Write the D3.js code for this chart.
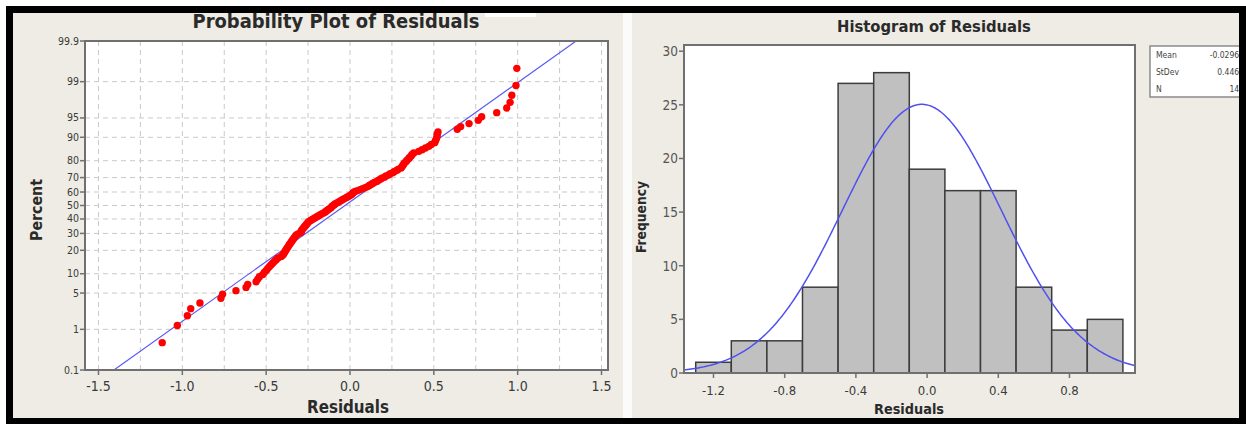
<!DOCTYPE html>
<html>
<head>
<meta charset="utf-8">
<script src="https://cdn.jsdelivr.net/npm/d3@7"></script>
<style>
  html, body { margin: 0; padding: 0; background: #ffffff; }
  svg { display: block; }
  text { font-family: "DejaVu Sans Condensed", "DejaVu Sans", sans-serif; }
</style>
</head>
<body>
<svg id="chart" width="1246" height="424"></svg>
<script>
// ---------------- DATA ----------------
// Sorted residuals (n = 140)
const residuals = [
  -1.12,
  -1.03, -0.97, -0.95,
  -0.895, -0.77, -0.76,
  -0.68, -0.62, -0.61, -0.56, -0.55, -0.54, -0.52, -0.51,
  -0.498, -0.49, -0.48, -0.47, -0.46, -0.45, -0.44, -0.43, -0.41, -0.40,
  -0.395, -0.39, -0.385, -0.38, -0.375, -0.37, -0.365, -0.36, -0.355, -0.35,
  -0.345, -0.34, -0.335, -0.33, -0.325, -0.32, -0.31,
  -0.295, -0.29, -0.29, -0.285, -0.28, -0.275, -0.27, -0.265, -0.26, -0.255,
  -0.25, -0.245, -0.235, -0.225, -0.215, -0.205, -0.195, -0.185, -0.175, -0.165,
  -0.155, -0.145, -0.14, -0.13, -0.125, -0.115, -0.11, -0.105,
  -0.095, -0.09, -0.08, -0.07, -0.06, -0.05, -0.04, -0.03, -0.02, -0.01,
  0.0, 0.01, 0.015, 0.02, 0.03, 0.045, 0.06, 0.075, 0.09,
  0.105, 0.115, 0.125, 0.135, 0.145, 0.16, 0.17, 0.18, 0.19, 0.205,
  0.215, 0.23, 0.24, 0.255, 0.265, 0.28, 0.29,
  0.305, 0.31, 0.315, 0.32, 0.325, 0.335, 0.34, 0.35, 0.355, 0.365,
  0.37, 0.38, 0.41, 0.43, 0.45, 0.47, 0.485,
  0.505, 0.51, 0.515, 0.52, 0.52, 0.525, 0.64, 0.66,
  0.71, 0.765, 0.785, 0.875,
  0.935, 0.955, 0.965, 0.99, 0.995
];

// Summary statistics shown in the legend box
const statLabels = ["Mean", "StDev", "N"];
const statValues = ["-0.02962", "0.4460", "140"];
const fitMean = -0.02962;
const fitStDev = 0.4460;

// Probability plot axis ticks
const percentTicks = [0.1, 1, 5, 10, 20, 30, 40, 50, 60, 70, 80, 90, 95, 99, 99.9];
const percentGrid = [1, 5, 10, 20, 30, 40, 50, 60, 70, 80, 90, 95, 99];
const probXTicks = [-1.5, -1.0, -0.5, 0.0, 0.5, 1.0, 1.5];
const probXGrid = [-1.5, -1.25, -1.0, -0.75, -0.5, -0.25, 0.0, 0.25, 0.5, 0.75, 1.0, 1.25, 1.5];

// Histogram bins and ticks
const binEdges = [-1.3, -1.1, -0.9, -0.7, -0.5, -0.3, -0.1, 0.1, 0.3, 0.5, 0.7, 0.9, 1.1];
const histXTicks = [-1.2, -0.8, -0.4, 0.0, 0.4, 0.8];
const histYTicks = [0, 5, 10, 15, 20, 25, 30];

// ---------------- HELPERS ----------------
function qnorm(p) {
  const a = [-3.969683028665376e+01, 2.209460984245205e+02, -2.759285104469687e+02, 1.383577518672690e+02, -3.066479806614716e+01, 2.506628277459239e+00];
  const b = [-5.447609879822406e+01, 1.615858368580409e+02, -1.556989798598866e+02, 6.680131188771972e+01, -1.328068155288572e+01];
  const c = [-7.784894002430293e-03, -3.223964580411365e-01, -2.400758277161838e+00, -2.549732539343734e+00, 4.374664141464968e+00, 2.938163982698783e+00];
  const d = [7.784695709041462e-03, 3.224671290700398e-01, 2.445134137142996e+00, 3.754408661907416e+00];
  const pl = 0.02425, ph = 1 - pl;
  let q, r;
  if (p < pl) {
    q = Math.sqrt(-2 * Math.log(p));
    return (((((c[0]*q+c[1])*q+c[2])*q+c[3])*q+c[4])*q+c[5]) / ((((d[0]*q+d[1])*q+d[2])*q+d[3])*q+1);
  }
  if (p <= ph) {
    q = p - 0.5; r = q*q;
    return (((((a[0]*r+a[1])*r+a[2])*r+a[3])*r+a[4])*r+a[5])*q / (((((b[0]*r+b[1])*r+b[2])*r+b[3])*r+b[4])*r+1);
  }
  q = Math.sqrt(-2 * Math.log(1 - p));
  return -(((((c[0]*q+c[1])*q+c[2])*q+c[3])*q+c[4])*q+c[5]) / ((((d[0]*q+d[1])*q+d[2])*q+d[3])*q+1);
}
function fitText(sel, target) {
  const node = sel.node();
  const w = node.getComputedTextLength();
  const fs = parseFloat(sel.attr("font-size"));
  if (w > 0) sel.attr("font-size", (fs * target / w).toFixed(2));
}
const fmt1 = d => d.toFixed(1);

// ---------------- LAYOUT ----------------
const svg = d3.select("#chart");
const BEIGE = "#eeece4";
const TXT = "#3a3a3a";
const FRAME = "#707070";
const GRID = "#c9c9c9";

// panels
svg.append("rect").attr("x", 0).attr("y", 0).attr("width", 1246).attr("height", 424).attr("fill", "#ffffff");
svg.append("rect").attr("x", 13).attr("y", 13).attr("width", 610).attr("height", 405).attr("fill", BEIGE);
svg.append("rect").attr("x", 623).attr("y", 13).attr("width", 9).attr("height", 405).attr("fill", "#fbfbf9");
svg.append("rect").attr("x", 632).attr("y", 13).attr("width", 607).attr("height", 405).attr("fill", BEIGE);
// small white patch near left title
svg.append("rect").attr("x", 485).attr("y", 13).attr("width", 51).attr("height", 4).attr("fill", "#ffffff");

// ================= PROBABILITY PLOT =================
const P = { left: 85, right: 608, top: 41, bottom: 370 };
const xP = d3.scaleLinear().domain([-1.5, 1.5]).range([98.5, 601.5]);
const yP = d3.scaleLinear().domain([qnorm(0.001), qnorm(0.999)]).range([P.bottom, P.top]);

const gP = svg.append("g");
gP.append("rect").attr("x", P.left).attr("y", P.top).attr("width", P.right - P.left).attr("height", P.bottom - P.top).attr("fill", "#ffffff");

gP.append("defs").append("clipPath").attr("id", "clipP")
  .append("rect").attr("x", P.left).attr("y", P.top).attr("width", P.right - P.left).attr("height", P.bottom - P.top);

// grid
gP.selectAll(".vg").data(probXGrid).join("line")
  .attr("x1", d => xP(d)).attr("x2", d => xP(d)).attr("y1", P.top).attr("y2", P.bottom)
  .attr("stroke", GRID).attr("stroke-width", 1).attr("stroke-dasharray", "5,4");
gP.selectAll(".hg").data(percentGrid).join("line")
  .attr("x1", P.left).attr("x2", P.right).attr("y1", d => yP(qnorm(d / 100))).attr("y2", d => yP(qnorm(d / 100)))
  .attr("stroke", GRID).attr("stroke-width", 1).attr("stroke-dasharray", "5,4");

// fitted line
const zLo = qnorm(0.001), zHi = qnorm(0.999);
gP.append("line").attr("clip-path", "url(#clipP)")
  .attr("x1", xP(fitMean + fitStDev * zLo)).attr("y1", yP(zLo))
  .attr("x2", xP(fitMean + fitStDev * zHi)).attr("y2", yP(zHi))
  .attr("stroke", "#5a5af5").attr("stroke-width", 1.2);

// points (median ranks)
const n = residuals.length;
const sorted = residuals.slice().sort((a, b) => a - b);
gP.selectAll(".pt").data(sorted).join("circle")
  .attr("cx", d => xP(d))
  .attr("cy", (d, i) => yP(qnorm((i + 1 - 0.3) / (n + 0.4))))
  .attr("r", 3.7).attr("fill", "#ff0000");

// frame
gP.append("rect").attr("x", P.left).attr("y", P.top).attr("width", P.right - P.left).attr("height", P.bottom - P.top)
  .attr("fill", "none").attr("stroke", FRAME).attr("stroke-width", 2);

// axes
gP.selectAll(".xt").data(probXTicks).join("line")
  .attr("x1", d => xP(d)).attr("x2", d => xP(d)).attr("y1", P.bottom).attr("y2", P.bottom + 5)
  .attr("stroke", FRAME).attr("stroke-width", 1.5);
gP.selectAll(".xl").data(probXTicks).join("text")
  .attr("x", d => xP(d)).attr("y", P.bottom + 21).attr("text-anchor", "middle")
  .attr("font-size", 14).attr("fill", TXT).text(fmt1);
gP.selectAll(".yt").data(percentTicks).join("line")
  .attr("x1", P.left - 5).attr("x2", P.left).attr("y1", d => yP(qnorm(d / 100))).attr("y2", d => yP(qnorm(d / 100)))
  .attr("stroke", FRAME).attr("stroke-width", 1.5);
gP.selectAll(".yl").data(percentTicks).join("text")
  .attr("x", P.left - 6).attr("y", d => yP(qnorm(d / 100)) + 3.5).attr("text-anchor", "end")
  .attr("font-size", 10.5).attr("fill", TXT).text(d => String(d));

const t1 = svg.append("text").attr("x", 336).attr("y", 28).attr("text-anchor", "middle")
  .attr("font-size", 18).attr("font-weight", "bold").attr("fill", "#2a2a2a").text("Probability Plot of Residuals");
fitText(t1, 287);
const xa1 = svg.append("text").attr("x", 348).attr("y", 413).attr("text-anchor", "middle")
  .attr("font-size", 14).attr("font-weight", "bold").attr("fill", "#2a2a2a").text("Residuals");
fitText(xa1, 82);
const ya1 = svg.append("text").attr("transform", "translate(42,210) rotate(-90)").attr("text-anchor", "middle")
  .attr("font-size", 14).attr("font-weight", "bold").attr("fill", "#2a2a2a").text("Percent");
fitText(ya1, 62);

// ================= HISTOGRAM =================
const H = { left: 684, right: 1135, top: 45, bottom: 373 };
const xH = d3.scaleLinear().domain([-1.2, 0.8]).range([713.5, 1069.5]);
const yH = d3.scaleLinear().domain([0, 30]).range([H.bottom, 51.2]);

const bins = d3.bin().domain([binEdges[0], binEdges[binEdges.length - 1]]).thresholds(binEdges.slice(1, -1))(residuals);

const gH = svg.append("g");
gH.append("rect").attr("x", H.left).attr("y", H.top).attr("width", H.right - H.left).attr("height", H.bottom - H.top).attr("fill", "#ffffff");
gH.append("defs").append("clipPath").attr("id", "clipH")
  .append("rect").attr("x", H.left).attr("y", H.top).attr("width", H.right - H.left).attr("height", H.bottom - H.top);

gH.selectAll(".bar").data(bins).join("rect")
  .attr("x", d => xH(d.x0)).attr("width", d => xH(d.x1) - xH(d.x0))
  .attr("y", d => yH(d.length)).attr("height", d => yH(0) - yH(d.length))
  .attr("fill", "#c0c0c0").attr("stroke", "#3c3c3c").attr("stroke-width", 1.5);

// normal curve
const binW = binEdges[1] - binEdges[0];
const xs = d3.range(xH.invert(H.left), xH.invert(H.right) + 0.001, 0.01);
const curve = d3.line()
  .x(d => xH(d))
  .y(d => yH(n * binW * Math.exp(-0.5 * Math.pow((d - fitMean) / fitStDev, 2)) / (fitStDev * Math.sqrt(2 * Math.PI))));
gH.append("path").datum(xs).attr("clip-path", "url(#clipH)").attr("d", curve)
  .attr("fill", "none").attr("stroke", "#5050f0").attr("stroke-width", 1.5);

gH.append("rect").attr("x", H.left).attr("y", H.top).attr("width", H.right - H.left).attr("height", H.bottom - H.top)
  .attr("fill", "none").attr("stroke", FRAME).attr("stroke-width", 2);

gH.selectAll(".xt").data(histXTicks).join("line")
  .attr("x1", d => xH(d)).attr("x2", d => xH(d)).attr("y1", H.bottom).attr("y2", H.bottom + 5)
  .attr("stroke", FRAME).attr("stroke-width", 1.5);
gH.selectAll(".xl").data(histXTicks).join("text")
  .attr("x", d => xH(d)).attr("y", H.bottom + 22).attr("text-anchor", "middle")
  .attr("font-size", 13).attr("fill", TXT).text(fmt1);
gH.selectAll(".yt").data(histYTicks).join("line")
  .attr("x1", H.left - 5).attr("x2", H.left).attr("y1", d => yH(d)).attr("y2", d => yH(d))
  .attr("stroke", FRAME).attr("stroke-width", 1.5);
gH.selectAll(".yl").data(histYTicks).join("text")
  .attr("x", H.left - 6).attr("y", d => yH(d) + 5).attr("text-anchor", "end")
  .attr("font-size", 13.5).attr("fill", "#555").text(d => String(d));

const t2 = svg.append("text").attr("x", 934).attr("y", 32).attr("text-anchor", "middle")
  .attr("font-size", 16).attr("font-weight", "bold").attr("fill", "#2a2a2a").text("Histogram of Residuals");
fitText(t2, 194);
const xa2 = svg.append("text").attr("x", 909).attr("y", 414).attr("text-anchor", "middle")
  .attr("font-size", 13).attr("font-weight", "bold").attr("fill", "#2a2a2a").text("Residuals");
fitText(xa2, 70);
const ya2 = svg.append("text").attr("transform", "translate(646,217) rotate(-90)").attr("text-anchor", "middle")
  .attr("font-size", 13).attr("font-weight", "bold").attr("fill", "#2a2a2a").text("Frequency");
fitText(ya2, 72);

// stats box
const box = svg.append("g");
box.append("rect").attr("x", 1150).attr("y", 46).attr("width", 110).attr("height", 51)
  .attr("fill", "#ffffff").attr("stroke", "#8a8a8a").attr("stroke-width", 1.5);
box.selectAll(".sl").data(statLabels).join("text")
  .attr("x", 1156).attr("y", (d, i) => 58 + i * 17).attr("font-size", 8.5).attr("fill", "#444").text(d => d);
box.selectAll(".sv").data(statValues).join("text")
  .attr("x", 1244).attr("y", (d, i) => 58 + i * 17).attr("text-anchor", "end").attr("font-size", 8.5).attr("fill", "#444").text(d => d);

// outer black frame (drawn last so it clips the stats box)
svg.append("rect").attr("x", 6).attr("y", 6).attr("width", 1240).attr("height", 7).attr("fill", "#000");
svg.append("rect").attr("x", 6).attr("y", 6).attr("width", 7).attr("height", 418).attr("fill", "#000");
svg.append("rect").attr("x", 1239).attr("y", 6).attr("width", 7).attr("height", 418).attr("fill", "#000");
svg.append("rect").attr("x", 6).attr("y", 418).attr("width", 1240).attr("height", 6).attr("fill", "#000");
</script>
</body>
</html>
